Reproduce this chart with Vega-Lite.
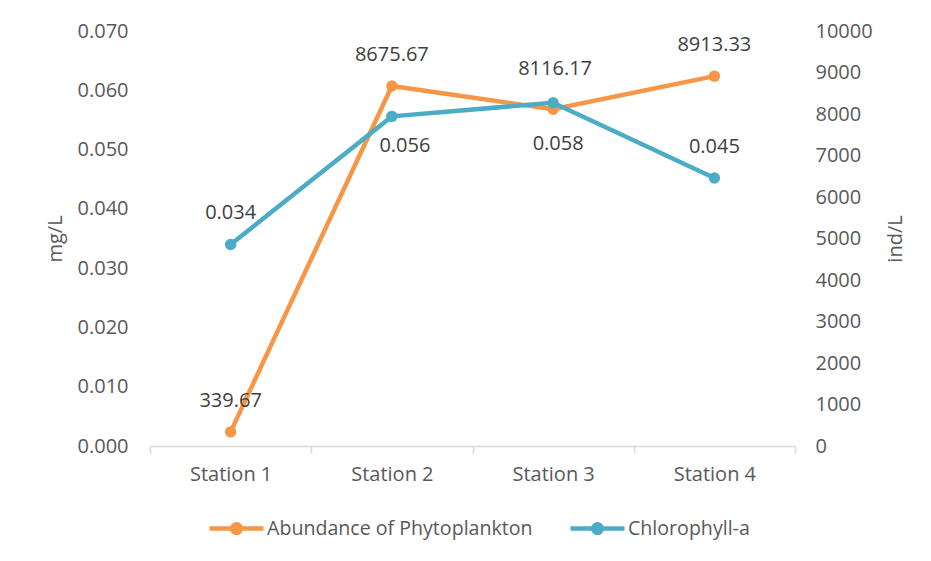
{
  "$schema": "https://vega.github.io/schema/vega-lite/v6.json",
  "width": 645,
  "height": 415,
  "autosize": {"type": "none"},
  "padding": {"left": 150, "top": 31, "right": 136, "bottom": 115},
  "background": "white",
  "config": {
    "view": {"stroke": null},
    "font": "Open Sans",
    "axis": {
      "labelFont": "Open Sans", "titleFont": "Open Sans",
      "labelFontSize": 20, "titleFontSize": 20,
      "labelColor": "#595959", "titleColor": "#595959",
      "titleFontWeight": "normal", "grid": false
    },
    "text": {"font": "Open Sans", "fontSize": 20, "color": "#404040"},
    "legend": {"labelFont": "Open Sans"}
  },
  "data": {
    "values": [
      {"station": "Station 1", "series": "Abundance of Phytoplankton", "value": 339.67},
      {"station": "Station 2", "series": "Abundance of Phytoplankton", "value": 8675.67},
      {"station": "Station 3", "series": "Abundance of Phytoplankton", "value": 8116.17},
      {"station": "Station 4", "series": "Abundance of Phytoplankton", "value": 8913.33},
      {"station": "Station 1", "series": "Chlorophyll-a", "value": 0.0340},
      {"station": "Station 2", "series": "Chlorophyll-a", "value": 0.0556},
      {"station": "Station 3", "series": "Chlorophyll-a", "value": 0.0579},
      {"station": "Station 4", "series": "Chlorophyll-a", "value": 0.0452}
    ]
  },
  "encoding": {
    "x": {
      "field": "station", "type": "nominal", "bandPosition": 0.5,
      "scale": {"type": "band", "paddingInner": 0, "paddingOuter": 0},
      "axis": {
        "title": null, "labelAngle": 0, "domainColor": "#d9d9d9", "domainWidth": 1.5,
        "tickColor": "#d9d9d9", "tickWidth": 1.5, "tickSize": 7, "tickBand": "extent",
        "labelPadding": 11
      }
    }
  },
  "layer": [
    {
      "transform": [{"filter": "datum.series === 'Abundance of Phytoplankton'"}],
      "encoding": {
        "y": {
          "field": "value", "type": "quantitative",
          "scale": {"domain": [0, 10000]},
          "axis": {
            "orient": "right", "title": "ind/L", "values": [0,1000,2000,3000,4000,5000,6000,7000,8000,9000,10000],
            "format": "d", "ticks": false, "tickSize": 0, "domain": false, "labelPadding": 20,
            "titleAngle": 270, "titleBaseline": "top", "titlePadding": 13
          }
        }
      },
      "layer": [
        {
          "mark": {"type": "line", "strokeWidth": 4.5},
          "encoding": {
            "color": {
              "field": "series", "type": "nominal",
              "scale": {"domain": ["Abundance of Phytoplankton", "Chlorophyll-a"], "range": ["#F79646", "#4BACC6"]},
              "legend": {
                "title": null, "orient": "none", "legendX": 57, "legendY": 468, "direction": "horizontal",
                "padding": 0, "labelFontSize": 19.6, "labelColor": "#595959", "labelOffset": 1, "columnPadding": 28,
                "labelLimit": 0,
                "symbolType": "M-1,0L1,0M-0.16,0A0.16,0.16,0,1,1,0.16,0A0.16,0.16,0,1,1,-0.16,0Z",
                "symbolSize": 2916, "symbolStrokeWidth": 4.5,
                "encode": {"symbols": {"update": {"fill": {"scale": "color", "field": "value"}, "stroke": {"scale": "color", "field": "value"}, "opacity": {"value": 1}}}}
              }
            }
          }
        },
        {
          "mark": {"type": "point", "filled": true, "size": 130, "opacity": 1},
          "encoding": {"color": {"field": "series", "type": "nominal"}}
        },
        {
          "transform": [{"filter": "datum.station !== 'Station 3'"}],
          "mark": {"type": "text", "dy": -31},
          "encoding": {"text": {"field": "value", "type": "quantitative", "format": ".2f"}}
        },
        {
          "transform": [{"filter": "datum.station === 'Station 3'"}],
          "mark": {"type": "text", "dy": -40, "dx": 2},
          "encoding": {"text": {"field": "value", "type": "quantitative", "format": ".2f"}}
        }
      ]
    },
    {
      "transform": [{"filter": "datum.series === 'Chlorophyll-a'"}],
      "encoding": {
        "y": {
          "field": "value", "type": "quantitative",
          "scale": {"domain": [0, 0.07]},
          "axis": {
            "orient": "left", "title": "mg/L", "values": [0,0.01,0.02,0.03,0.04,0.05,0.06,0.07],
            "format": ".3f", "ticks": false, "tickSize": 0, "domain": false, "labelPadding": 22,
            "titlePadding": 12
          }
        }
      },
      "layer": [
        {
          "mark": {"type": "line", "strokeWidth": 4.5},
          "encoding": {"color": {"field": "series", "type": "nominal"}}
        },
        {
          "mark": {"type": "point", "filled": true, "size": 130, "opacity": 1},
          "encoding": {"color": {"field": "series", "type": "nominal"}}
        },
        {
          "transform": [{"filter": "datum.station === 'Station 1' || datum.station === 'Station 4'"}],
          "mark": {"type": "text", "dy": -31},
          "encoding": {"text": {"field": "value", "type": "quantitative", "format": ".3f"}}
        },
        {
          "transform": [{"filter": "datum.station === 'Station 2'"}],
          "mark": {"type": "text", "dy": 30, "dx": 13},
          "encoding": {"text": {"field": "value", "type": "quantitative", "format": ".3f"}}
        },
        {
          "transform": [{"filter": "datum.station === 'Station 3'"}],
          "mark": {"type": "text", "dy": 41, "dx": 5},
          "encoding": {"text": {"field": "value", "type": "quantitative", "format": ".3f"}}
        }
      ]
    }
  ],
  "resolve": {"scale": {"y": "independent"}, "axis": {"y": "independent"}}
}
